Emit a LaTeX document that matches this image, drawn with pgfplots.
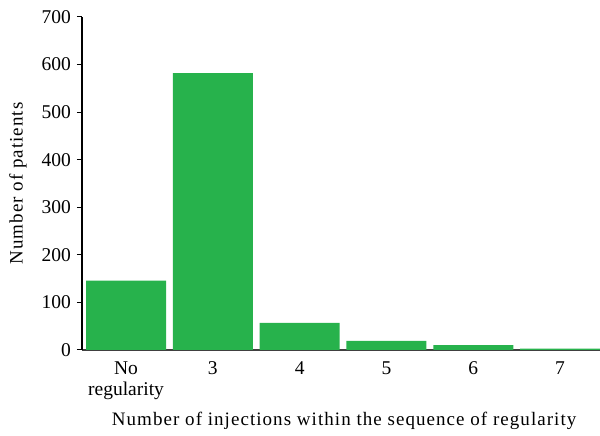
\documentclass[border=0pt]{standalone}
\usepackage{pgfplots}
\pgfplotsset{compat=1.18}
\usepackage{fontspec}
\setmainfont{Liberation Serif}
\newfontfamily\labfont[LetterSpace=5.5]{Liberation Serif}
\definecolor{bargreen}{RGB}{39,178,76}
\begin{document}
\begin{tikzpicture}
\begin{axis}[
  at={(0,0)}, anchor=south west,
  scale only axis,
  width=518pt, height=333pt,
  xmin=-0.507, xmax=5.46,
  ymin=0, ymax=700,
  ytick={0,100,...,700},
  xtick={0,1,2,3,4,5},
  xticklabels={{No\\regularity},3,4,5,6,7},
  xticklabel style={align=center, font=\fontsize{19.5}{21}\selectfont, yshift=-3pt},
  yticklabel style={font=\fontsize{19.5}{21}\selectfont, xshift=-2.5pt},
  /pgf/number format/assume math mode=true,
  axis lines*=left,
  axis line style={line width=1.2pt},
  x axis line style={draw=black!75, line width=1.6pt},
  major tick length=5pt,
  tick style={line width=1pt, black},
  xtick style={draw=none},
  ytick pos=left,
  tick align=outside,
  xlabel={Number of injections within the sequence of regularity},
  ylabel={Number of patients},
  label style={font=\labfont\fontsize{19}{21}\selectfont},
  xlabel style={at={(axis description cs:0.506,-0.213)}, anchor=center},
  ylabel style={at={(axis description cs:-0.1235,0.5)}, anchor=center, rotate=0},
  clip=true,
]
\addplot[ybar, bar width=80pt, fill=bargreen, draw=none] coordinates {
  (0,146) (1,582) (2,57) (3,19) (4,10.5) (5,3)
};
\end{axis}
\pgfresetboundingbox
\path[use as bounding box] (-82pt,-86pt) rectangle (518pt,350pt);
\end{tikzpicture}
\end{document}
